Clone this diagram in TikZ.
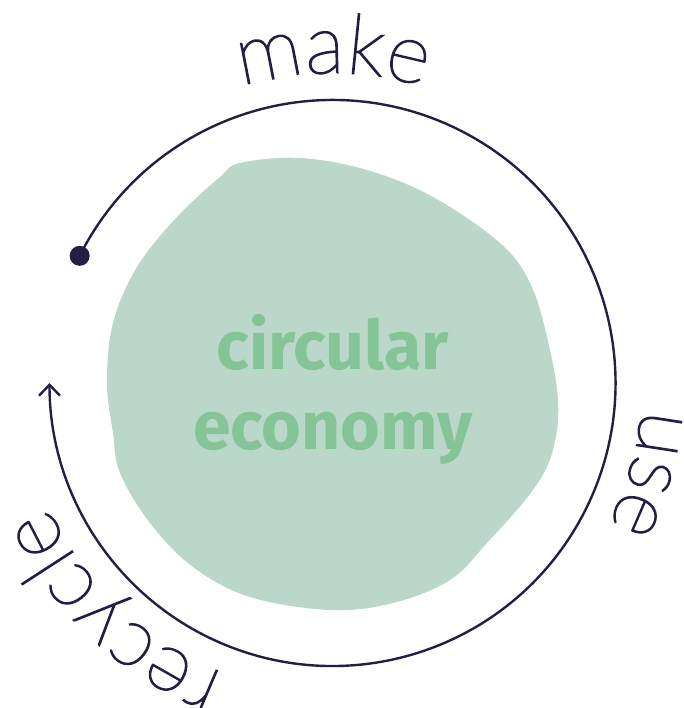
\documentclass[tikz,border=0pt]{standalone}
\usepackage{fontspec}
\usetikzlibrary{arrows.meta,decorations.text}
\newfontfamily\thinfont[BoldFont={Lato Thin}, BoldFeatures={FakeBold=2}]{Lato Thin}
\newfontfamily\boldfont{Fira Sans}
\definecolor{ink}{HTML}{231F43}
\definecolor{blob}{HTML}{BAD7CA}
\definecolor{leaf}{HTML}{85C497}
\newcommand{\cyclefont}{\thinfont\bfseries\fontsize{83}{83}\selectfont}
\newcommand{\mainfont}{\boldfont\bfseries\fontsize{68}{80}\selectfont}
\begin{document}
\begin{tikzpicture}[x=1pt, y=1pt]
		\useasboundingbox (0, 0) rectangle (683, 708);
		\coordinate (o) at (332.5, 325);
		\fill[blob] plot [smooth cycle, tension =.6] coordinates {(240, 545)(300, 550)(367, 538)(433, 511)(500, 465)(530, 425)(547, 371)(558, 308)(553, 258)(533, 218)(487, 165)(450, 128)(393, 105)(330, 98)(250, 111)(193, 141)(150, 185)(120, 235)(113, 275)(107, 325)(113, 385)(137, 441)(177, 491)(220, 531)};
		\node[leaf, font=\mainfont, anchor=base] (circ) at (333, 338) {circular};
		\node[leaf, font=\mainfont, anchor=base] (econ) at (333, 258) {economy};
		\draw[ink, line width=2.4pt, -{Straight Barb[length=11pt, width=21pt]}] (o) ++(153.3:283pt) arc[start angle=153.3, end angle=-180, radius=283pt];
		\fill[ink] (o) ++(153.3:283pt) circle[radius=10pt];
		% labels round the cycle
		\path[decorate, decoration={text along path, text={|\cyclefont|make}, text color=ink, text align=center}] (o) ++(120:310pt) arc[start angle=120, end angle=60, radius=310pt];
		\path[decorate, decoration={text along path, text={|\cyclefont|use}, text color=ink, text align=center}] (o) ++(14:310pt) arc[start angle=14, end angle=-46, radius=310pt];
		\path[decorate, decoration={text along path, text={|\cyclefont|recycle}, text color=ink, text align=center}] (o) ++(253:310pt) arc[start angle=253, end angle=200, radius=310pt];
\end{tikzpicture}
\end{document}
